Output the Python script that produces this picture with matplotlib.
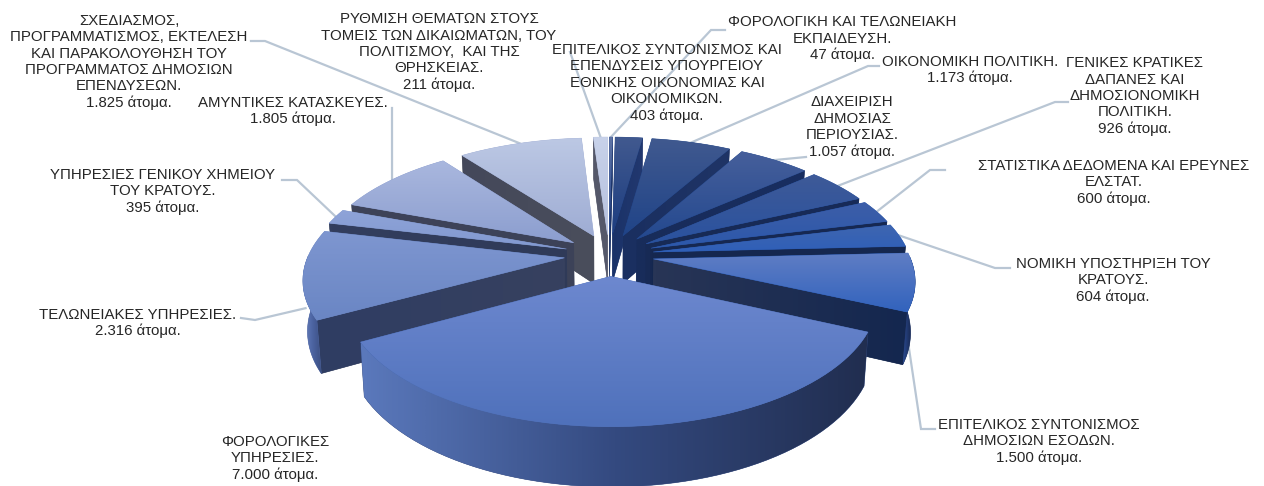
import numpy as np
import matplotlib
matplotlib.use('Agg')
import matplotlib.pyplot as plt
from matplotlib.colors import LinearSegmentedColormap
from matplotlib.patches import Polygon

plt.rcParams['font.family'] = ['Liberation Sans', 'DejaVu Sans']

# clockwise from 12 o'clock
people = [47, 403, 1173, 1057, 926, 600, 604, 1500, 7000, 2316, 395, 1805, 1825, 211]
names = [
    'ΦΟΡΟΛΟΓΙΚΗ ΚΑΙ ΤΕΛΩΝΕΙΑΚΗ\nΕΚΠΑΙΔΕΥΣΗ.',
    'ΕΠΙΤΕΛΙΚΟΣ ΣΥΝΤΟΝΙΣΜΟΣ ΚΑΙ\nΕΠΕΝΔΥΣΕΙΣ ΥΠΟΥΡΓΕΙΟΥ\nΕΘΝΙΚΗΣ ΟΙΚΟΝΟΜΙΑΣ ΚΑΙ\nΟΙΚΟΝΟΜΙΚΩΝ.',
    'ΟΙΚΟΝΟΜΙΚΗ ΠΟΛΙΤΙΚΗ.',
    'ΔΙΑΧΕΙΡΙΣΗ\nΔΗΜΟΣΙΑΣ\nΠΕΡΙΟΥΣΙΑΣ.',
    'ΓΕΝΙΚΕΣ ΚΡΑΤΙΚΕΣ\nΔΑΠΑΝΕΣ ΚΑΙ\nΔΗΜΟΣΙΟΝΟΜΙΚΗ\nΠΟΛΙΤΙΚΗ.',
    'ΣΤΑΤΙΣΤΙΚΑ ΔΕΔΟΜΕΝΑ ΚΑΙ ΕΡΕΥΝΕΣ\nΕΛΣΤΑΤ.',
    'ΝΟΜΙΚΗ ΥΠΟΣΤΗΡΙΞΗ ΤΟΥ\nΚΡΑΤΟΥΣ.',
    'ΕΠΙΤΕΛΙΚΟΣ ΣΥΝΤΟΝΙΣΜΟΣ\nΔΗΜΟΣΙΩΝ ΕΣΟΔΩΝ.',
    'ΦΟΡΟΛΟΓΙΚΕΣ\nΥΠΗΡΕΣΙΕΣ.',
    'ΤΕΛΩΝΕΙΑΚΕΣ ΥΠΗΡΕΣΙΕΣ.',
    'ΥΠΗΡΕΣΙΕΣ ΓΕΝΙΚΟΥ ΧΗΜΕΙΟΥ\nΤΟΥ ΚΡΑΤΟΥΣ.',
    'ΑΜΥΝΤΙΚΕΣ ΚΑΤΑΣΚΕΥΕΣ.',
    'ΣΧΕΔΙΑΣΜΟΣ,\nΠΡΟΓΡΑΜΜΑΤΙΣΜΟΣ, ΕΚΤΕΛΕΣΗ\nΚΑΙ ΠΑΡΑΚΟΛΟΥΘΗΣΗ ΤΟΥ\nΠΡΟΓΡΑΜΜΑΤΟΣ ΔΗΜΟΣΙΩΝ\nΕΠΕΝΔΥΣΕΩΝ.',
    'ΡΥΘΜΙΣΗ ΘΕΜΑΤΩΝ ΣΤΟΥΣ\nΤΟΜΕΙΣ ΤΩΝ ΔΙΚΑΙΩΜΑΤΩΝ, ΤΟΥ\nΠΟΛΙΤΙΣΜΟΥ,  ΚΑΙ ΤΗΣ\nΘΡΗΣΚΕΙΑΣ.',
]

# label centre in pixels
label_x = [842, 667, 970, 852, 1135, 1114, 1113, 1039, 275, 138, 163, 293, 129, 439]
label_y = [39, 83, 70, 127, 96, 182, 280, 441, 458, 323, 191, 111, 62, 52]

# top colour, bottom colour of each slice's face
face_top = ['#5f74a5', '#41598f', '#40598f', '#465f9b', '#3e5a98', '#3d5ea8', '#3f66b0', '#5f7dc4',
            '#6d88cf', '#7e96d0', '#8ea3d8', '#a9b7de', '#bcc8e4', '#c8d2ea']
face_bot = ['#27468a', '#1c3d80', '#204488', '#24498f', '#2a529f', '#2c58ab', '#2f5fb8', '#3263bd',
            '#4f71bb', '#6a86c4', '#8299d0', '#8c9ecf', '#9fadd4', '#b5c0de']
# colour of the cut side walls, near the centre / near the rim
wall_in = ['#1b3266', '#1a3268', '#1a2f60', '#182c5a', '#172a55', '#162851', '#16284f', '#283556',
           '#2d3b63', '#37415f', '#2f3a58', '#3c4258', '#4a4e5c', '#55586a']
wall_out = ['#1b3266', '#22386f', '#1f3466', '#182e60', '#172b58', '#162953', '#152750', '#14274f',
            '#2d3b63', '#2f3d63', '#333e5e', '#3e4358', '#44485a', '#55586a']
# outer wall colours left -> middle -> right
rim_l = ['#24408a', '#24408a', '#2a4a90', '#2a4a90', '#2a4c98', '#2a4c98', '#274a98', '#2a4a90',
         '#5a78bb', '#6c84bf', '#7a8fc6', '#8b9bc9', '#9aa7cf', '#a8b3d6']
rim_m = ['#1e3468', '#1e3468', '#1e3468', '#1e3468', '#1e3468', '#1e3468', '#1e3468', '#1c2f5e',
         '#344a80', '#4c64a2', '#6a7eb5', '#6f80ad', '#7a88ac', '#8a96b8']
rim_r = ['#16264e', '#16264e', '#16264e', '#16264e', '#16264e', '#16264e', '#16264e', '#16264e',
         '#212e50', '#3b4e80', '#55658f', '#5a6585', '#62697f', '#6a7088']

# leader: points from the label side, then where it meets the slice (fraction of arc, fraction of depth)
leaders = {
    0: ([(725, 30), (711, 30)], 0.5, 0),
    2: ([(879, 66), (868, 66)], 0.5, 0),
    3: ([(806, 157)], 0.5, 0),
    4: ([(1068, 102), (1055, 102)], 0.5, 0),
    5: ([(945, 170), (930, 170)], 0.5, 0),
    6: ([(1010, 268), (995, 268)], 0.5, 0),
    7: ([(935, 429), (921, 429)], 0.9, 0.6),
    9: ([(241, 318), (255, 320)], 0.3, 0.3),
    10: ([(282, 180), (297, 180)], 0.5, 0),
    11: ([(392, 108)], 0.5, 0),
    12: ([(251, 41), (265, 41)], 0.5, 0),
    13: ([(570, 52)], 0.5, 0),
}

cx, cy = 609, 255
ax_x, ax_y = 256, 119
persp = 0.158
explode = 0.175
depth = 49
base_shrink = 0.985
line_col = '#b9c6d4'
text_col = '#262626'


def project(u, v, drop=0.0):
    s = 1 / (1 + persp * v)
    x = ax_x * u * s
    y = -ax_y * v * s + drop * depth * s
    return cx + x * (1 - (1 - base_shrink) * drop), cy + y


def rim_point(a, off):
    return np.sin(a) + off[0], np.cos(a) + off[1]


def grad_fill(ax, pts, colors, horizontal, z):
    pts = np.array(pts)
    x0, x1 = pts[:, 0].min(), pts[:, 0].max()
    y0, y1 = pts[:, 1].min(), pts[:, 1].max()
    cmap = LinearSegmentedColormap.from_list('g', colors)
    ramp = np.linspace(0, 1, 64)
    img = ramp[None, :] if horizontal else ramp[:, None]
    ax.add_patch(Polygon(pts, closed=True, fc=colors[len(colors) // 2], ec=colors[len(colors) // 2], lw=0.4, zorder=z))
    im = ax.imshow(img, cmap=cmap, extent=(x0, x1 + 0.01, y1 + 0.01, y0), aspect='auto',
                   interpolation='bilinear', zorder=z + 0.01)
    im.set_clip_path(Polygon(pts, closed=True, transform=ax.transData))


fig = plt.figure(figsize=(12.64, 4.86), dpi=100)
ax = fig.add_axes([0, 0, 1, 1])

total = sum(people)
edges = np.cumsum([0] + people) / total * 2 * np.pi
mids = (edges[:-1] + edges[1:]) / 2

# far slices first
order = np.argsort(-np.cos(mids))
z = 3
for i in order:
    a0, a1 = edges[i], edges[i + 1]
    off = (explode * np.sin(mids[i]), explode * np.cos(mids[i]))
    arc = np.linspace(a0, a1, 60)
    ru, rv = rim_point(arc, off)
    apex_top = project(off[0], off[1])
    apex_base = project(off[0], off[1], 1)

    # cut walls
    if np.sin(a1) > 0:
        top = project(ru[-1], rv[-1])
        base = project(ru[-1], rv[-1], 1)
        grad_fill(ax, [apex_top, top, base, apex_base], [wall_in[i], wall_out[i]], True, z)
        z += 1
    if np.sin(a0) < 0:
        top = project(ru[0], rv[0])
        base = project(ru[0], rv[0], 1)
        grad_fill(ax, [apex_top, top, base, apex_base], [wall_out[i], wall_in[i]], True, z)
        z += 1

    # outer wall, only the part that looks at the viewer
    keep = np.cos(arc) < 0.02
    if keep.sum() > 1:
        tx, ty = project(ru[keep], rv[keep])
        bx, by = project(ru[keep], rv[keep], 1)
        pts = list(zip(tx, ty)) + list(zip(bx[::-1], by[::-1]))
        grad_fill(ax, pts, [rim_l[i], rim_m[i], rim_r[i]], True, z)
        z += 1

    # top face
    tx, ty = project(ru, rv)
    grad_fill(ax, [apex_top] + list(zip(tx, ty)), [face_top[i], face_bot[i]], False, z)
    z += 1

# leaders go behind the pie
for i, (pts, frac, drop) in leaders.items():
    a = edges[i] + frac * (edges[i + 1] - edges[i])
    off = (explode * np.sin(mids[i]), explode * np.cos(mids[i]))
    ru, rv = rim_point(a, off)
    pts = pts + [project(ru, rv, drop)]
    ax.plot([p[0] for p in pts], [p[1] for p in pts], color=line_col, lw=1.6, zorder=2,
            solid_joinstyle='miter')

for i, name in enumerate(names):
    val = f'{people[i]:,}'.replace(',', '.')
    ax.text(label_x[i], label_y[i], f'{name}\n{val} άτομα.', ha='center', va='center',
            fontsize=10.8, color=text_col, linespacing=1.2, zorder=200)

ax.set_xlim(0, 1264)
ax.set_ylim(486, 0)
ax.axis('off')
fig.savefig('out.png', dpi=100, facecolor='white')
